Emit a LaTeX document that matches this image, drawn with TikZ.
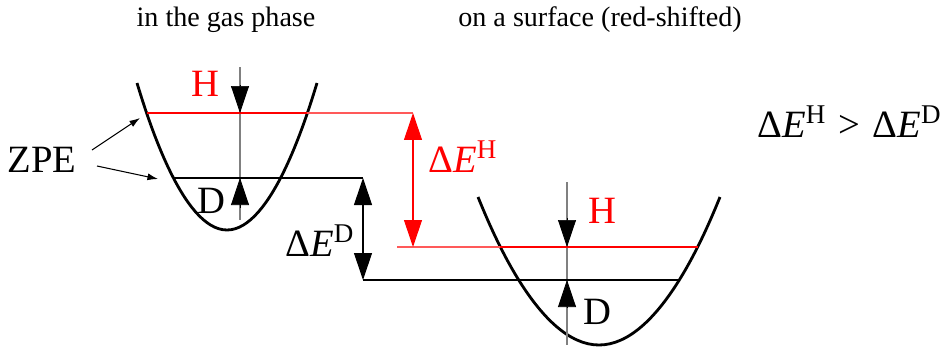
\documentclass[tikz,border=0pt]{standalone}
\usepackage{fontspec}
\setmainfont{Liberation Serif}
\usetikzlibrary{arrows.meta}
\newcommand{\dE}[1]{Δ\textit{E}\textsuperscript{#1}}
\tikzset{
  well/.style={line width=1.6pt},
  level/.style={line width=1.6pt},
  link/.style={line width=0.6pt},
  axisline/.style={gray, line width=0.6pt},
  tri/.style={-{Triangle[length=5.4mm,width=3.6mm]}},
  dbl/.style={line width=0.6pt, {Triangle[length=5.4mm,width=3.6mm]}-{Triangle[length=5.4mm,width=3.6mm]}},
  zarrow/.style={line width=0.6pt, -{Latex[length=6pt,width=4pt]}},
  lab/.style={inner sep=0pt, anchor=base, font=\fontsize{22}{26}\selectfont},
  title/.style={inner sep=0pt, anchor=base, font=\fontsize{16}{19}\selectfont},
}
\begin{document}
\begin{tikzpicture}[x=0.02cm, y=-0.02cm]
\useasboundingbox (0,0) rectangle (950,349);

% titles
\node[title] (gas) at (226,26) {in the gas phase};
\node[title] (surf) at (600,26) {on a surface (red-shifted)};

% gas phase well
\draw[well] (137,83) parabola bend (227,230) (317,83);
\coordinate (gA-top) at (240,67);
\coordinate (gA-bot) at (240,220);
\draw[axisline] (gA-top) -- (gA-bot);
\coordinate (gH-l) at (147,113);
\coordinate (gH-r) at (307,113);
\coordinate (gD-l) at (174,178);
\coordinate (gD-r) at (281,178);
\draw[level, red] (gH-l) -- (gH-r);
\draw[level] (gD-l) -- (gD-r);
\coordinate (gH-a) at (240,85);
\coordinate (gH-t) at (240,113);
\coordinate (gD-a) at (240,208);
\coordinate (gD-t) at (240,178);
\draw[tri] (gH-a) -- (gH-t);
\draw[tri] (gD-a) -- (gD-t);
\node[lab, red] (gH-lab) at (205,96) {H};
\node[lab] (gD-lab) at (211,213) {D};

% surface well
\draw[well] (478,197) parabola bend (599,345) (720,197);
\coordinate (sA-top) at (567,182);
\coordinate (sA-bot) at (567,345);
\draw[axisline] (sA-top) -- (sA-bot);
\coordinate (sH-l) at (500,247);
\coordinate (sH-r) at (698,247);
\coordinate (sD-l) at (519,280);
\coordinate (sD-r) at (679,280);
\draw[level, red] (sH-l) -- (sH-r);
\draw[level] (sD-l) -- (sD-r);
\coordinate (sH-a) at (567,218);
\coordinate (sH-t) at (567,247);
\coordinate (sD-a) at (567,308);
\coordinate (sD-t) at (567,280);
\draw[tri] (sH-a) -- (sH-t);
\draw[tri] (sD-a) -- (sD-t);
\node[lab, red] (sH-lab) at (602,223) {H};
\node[lab] (sD-lab) at (597,324) {D};

% shifts
\coordinate (eH-top) at (413,113);
\coordinate (eH-bot) at (413,247);
\coordinate (eH-in) at (397,247);
\draw[link, red!65] (gH-r) -- (eH-top);
\draw[link, red!65] (eH-in) -- (sH-l);
\draw[dbl, red] (eH-top) -- (eH-bot);
\coordinate (eD-top) at (363,178);
\coordinate (eD-bot) at (363,280);
\draw[link] (gD-r) -- (eD-top);
\draw[link] (eD-bot) -- (sD-l);
\draw[dbl] (eD-top) -- (eD-bot);
\node[lab, red, anchor=base west] (eH-lab) at (428,172) {\dE{H}};
\node[lab, anchor=base west] (eD-lab) at (285,256) {\dE{D}};

% ZPE
\node[lab] (zpe) at (42,172) {ZPE};
\coordinate (z1-s) at (92,150);
\coordinate (z1-e) at (140,118);
\coordinate (z2-s) at (97,166);
\coordinate (z2-e) at (158,179);
\draw[zarrow] (z1-s) -- (z1-e);
\draw[zarrow] (z2-s) -- (z2-e);

\node[lab, anchor=base west] (cmp) at (757,137) {\dE{H}\hspace{1.5pt} > \hspace{1.5pt}\dE{D}};
\end{tikzpicture}
\end{document}
